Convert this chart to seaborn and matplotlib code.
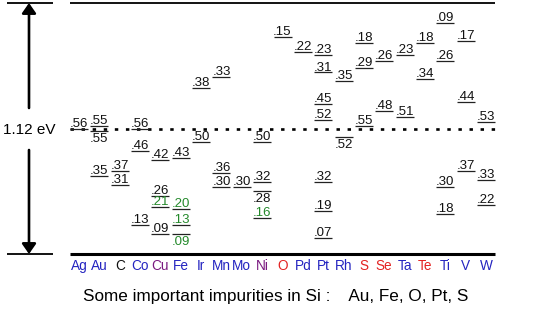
import numpy as np
import pandas as pd
import matplotlib
matplotlib.use("Agg")
import matplotlib.pyplot as plt
import seaborn as sns

# ---------------- data ----------------
band_gap = 1.12  # eV

elements = ["Ag", "Au", "C", "Co", "Cu", "Fe", "Ir", "Mn", "Mo", "Ni", "O",
            "Pd", "Pt", "Rh", "S", "Se", "Ta", "Te", "Ti", "V", "W"]
element_colors = ["blue", "blue", "black", "blue", "purple", "blue", "blue",
                  "blue", "blue", "purple", "red", "blue", "blue", "blue",
                  "red", "red", "blue", "red", "blue", "blue", "blue"]

# each level: element, value (eV), reference edge (C: below Ec, V: above Ev),
# label side (a: above line, b: below line), green highlight
level_element = ["Ag",
                 "Au", "Au", "Au",
                 "C", "C",
                 "Co", "Co", "Co",
                 "Cu", "Cu", "Cu", "Cu",
                 "Fe", "Fe", "Fe", "Fe",
                 "Ir", "Ir",
                 "Mn", "Mn", "Mn",
                 "Mo",
                 "Ni", "Ni", "Ni", "Ni",
                 "O",
                 "Pd",
                 "Pt", "Pt", "Pt", "Pt", "Pt", "Pt", "Pt",
                 "Rh", "Rh",
                 "S", "S", "S",
                 "Se", "Se",
                 "Ta", "Ta",
                 "Te", "Te",
                 "Ti", "Ti", "Ti", "Ti",
                 "V", "V", "V",
                 "W", "W", "W"]
level_value = [0.56,
               0.55, 0.55, 0.35,
               0.37, 0.31,
               0.56, 0.46, 0.13,
               0.42, 0.26, 0.21, 0.09,
               0.43, 0.20, 0.13, 0.09,
               0.38, 0.50,
               0.33, 0.36, 0.30,
               0.30,
               0.50, 0.32, 0.28, 0.16,
               0.15,
               0.22,
               0.23, 0.31, 0.45, 0.52, 0.32, 0.19, 0.07,
               0.35, 0.52,
               0.18, 0.29, 0.55,
               0.26, 0.48,
               0.23, 0.51,
               0.18, 0.34,
               0.09, 0.26, 0.30, 0.18,
               0.17, 0.44, 0.37,
               0.53, 0.33, 0.22]
level_ref = ["C",
             "C", "V", "V",
             "V", "V",
             "C", "V", "V",
             "V", "V", "V", "V",
             "V", "V", "V", "V",
             "C", "V",
             "C", "V", "V",
             "V",
             "V", "V", "V", "V",
             "C",
             "C",
             "C", "C", "C", "C", "V", "V", "V",
             "C", "V",
             "C", "C", "C",
             "C", "C",
             "C", "C",
             "C", "C",
             "C", "C", "V", "V",
             "C", "C", "V",
             "C", "V", "V"]
level_side = ["a",
              "a", "b", "a",
              "a", "a",
              "a", "a", "a",
              "a", "a", "a", "a",
              "a", "a", "a", "b",
              "a", "a",
              "a", "a", "a",
              "a",
              "a", "a", "b", "a",
              "a",
              "a",
              "a", "a", "a", "a", "a", "a", "a",
              "a", "b",
              "a", "a", "a",
              "a", "a",
              "a", "a",
              "a", "a",
              "a", "a", "a", "a",
              "a", "a", "a",
              "a", "a", "a"]
level_green = [False,
               False, False, False,
               False, False,
               False, False, False,
               False, False, True, False,
               False, True, True, True,
               False, False,
               False, False, False,
               False,
               False, False, False, True,
               False,
               False,
               False, False, False, False, False, False, False,
               False, False,
               False, False, False,
               False, False,
               False, False,
               False, False,
               False, False, False, False,
               False, False, False,
               False, False, False]

caption = "Some important impurities in Si :    Au, Fe, O, Pt, S"
gap_label = "1.12 eV"

# ---------------- table ----------------
df = pd.DataFrame({"element": level_element, "value": level_value,
                   "ref": level_ref, "side": level_side, "green": level_green})
df["x"] = df["element"].map({e: i for i, e in enumerate(elements)})
df["E"] = np.where(df["ref"] == "C", band_gap - df["value"], df["value"])
df["label"] = [".%02d" % int(round(v * 100)) for v in df["value"]]

# ---------------- style ----------------
sns.set_theme(style="white")
plt.rcParams["font.family"] = ["Liberation Sans", "DejaVu Sans"]

W, H = 542, 311
fig = plt.figure(figsize=(W / 100, H / 100), dpi=100)
ax = fig.add_axes([0, 0, 1, 1])

# pixel geometry of the scale
x0_px, dx_px = 79.0, 20.35          # first column centre, column spacing
ec_px, ev_px = 3.0, 254.0           # band edge rows
ppe = (ev_px - ec_px) / band_gap    # pixels per eV


def px2x(px):
    return (px - x0_px) / dx_px


def px2y(py):
    return (ev_px - py) / ppe


ax.set_xlim(px2x(0), px2x(W))
ax.set_ylim(px2y(H), px2y(0))
ax.axis("off")

colmap = {"blue": "#2424c0", "purple": "#7a1a80", "red": "#e32222", "black": "#111111"}
green = "#23892a"

# band edges
xl, xr = px2x(70), px2x(495)
ax.hlines(band_gap, xl, xr, color="black", lw=1.3)
ax.hlines(0, xl, xr, color="black", lw=2.2)
# midgap dotted line
ax.hlines(band_gap / 2, xl, xr, color="black", lw=1.9,
          linestyles=[(0, (1.3, 2.9))], capstyle="butt")

# impurity levels
sns.scatterplot(data=df, x="x", y="E", marker="_", s=185, color="#222222",
                linewidth=0.9, ax=ax, legend=False, zorder=3)
for _, r in df.iterrows():
    c = green if r["green"] else "#111111"
    if r["side"] == "a":
        ax.annotate(r["label"], (r["x"], r["E"]), xytext=(0, 1.4),
                    textcoords="offset points", ha="center", va="baseline",
                    fontsize=9.5, color=c)
    else:
        ax.annotate(r["label"], (r["x"], r["E"]), xytext=(0, -1.4),
                    textcoords="offset points", ha="center", va="top",
                    fontsize=9.5, color=c)

# element names
for i, (e, col) in enumerate(zip(elements, element_colors)):
    ax.text(i, px2y(266), e, ha="center", va="center", fontsize=9.8,
            color=colmap[col])

# caption
ax.text(px2x(83), px2y(296), caption, ha="left", va="center", fontsize=12.3,
        color="black")

# band-gap arrow on the left
xa = px2x(29)
ax.hlines([band_gap, 0], px2x(7), px2x(53), color="black", lw=1.3)
arrow = dict(arrowstyle="-|>,head_length=0.6,head_width=0.42", lw=1.9,
             color="black", shrinkA=0, shrinkB=0, mutation_scale=10)
ax.annotate("", xy=(xa, band_gap), xytext=(xa, px2y(108)), arrowprops=arrow)
ax.annotate("", xy=(xa, 0), xytext=(xa, px2y(150)), arrowprops=arrow)
ax.text(xa, px2y(130), gap_label, ha="center", va="center", fontsize=11,
        color="black")

fig.savefig("out.png", dpi=100)
